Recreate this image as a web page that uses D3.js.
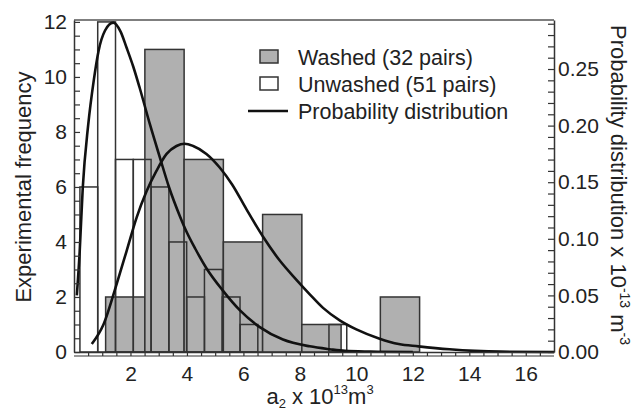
<!DOCTYPE html>
<html>
<head>
<meta charset="utf-8">
<script src="https://cdn.jsdelivr.net/npm/d3@7"></script>
<style>
  body { margin: 0; background: #fff; }
  text { font-family: Arial, "Liberation Sans", sans-serif; fill: #222; }
</style>
</head>
<body>
<div id="chart"></div>
<script>
// ---- data ----
const washedBinStarts = [1.12, 2.51, 3.90, 5.29, 6.68, 8.07, 9.46, 10.85];
const washedBinWidth = 1.39;
const washedCounts = [2, 11, 7, 4, 5, 1, 0, 2];

const unwashedBinStarts = [0.21, 0.84, 1.47, 2.10, 2.73, 3.36, 3.99, 4.62, 5.25, 5.88, 6.51, 7.14, 7.77, 8.40, 9.03];
const unwashedBinWidth = 0.63;
const unwashedCounts = [6, 12, 7, 7, 6, 4, 2, 3, 2, 1, 0, 0, 0, 0, 1];

// probability curves (x, density)
const unwashedCurveX = [0.10, 0.20, 0.31, 0.50, 0.70, 0.87, 1.10, 1.39, 1.65, 1.86, 2.10, 2.33, 2.69, 3.04, 3.36, 3.75, 3.99, 4.30, 4.69, 5.28, 5.87, 6.58, 7.40, 8.35, 9.05, 9.60, 10.5, 12.0];
const unwashedCurveY = [0.050, 0.088, 0.145, 0.200, 0.240, 0.266, 0.284, 0.291, 0.283, 0.269, 0.252, 0.233, 0.201, 0.172, 0.146, 0.120, 0.106, 0.091, 0.074, 0.054, 0.037, 0.022, 0.011, 0.005, 0.0025, 0.001, 0.0004, 0.0];
const washedCurveX = [0.63, 1.04, 1.51, 1.86, 2.22, 2.57, 2.92, 3.28, 3.63, 3.92, 4.22, 4.69, 5.16, 5.60, 6.11, 6.69, 7.28, 7.87, 8.35, 8.82, 9.41, 10.0, 10.8, 11.5, 12.2, 13.3, 14.2, 15.1, 17.0];
const washedCurveY = [0.007, 0.024, 0.060, 0.089, 0.119, 0.142, 0.160, 0.175, 0.182, 0.184, 0.182, 0.175, 0.163, 0.148, 0.126, 0.102, 0.081, 0.064, 0.051, 0.039, 0.028, 0.020, 0.012, 0.007, 0.005, 0.0024, 0.001, 0.0003, 0.0];

const xTicks = [2, 4, 6, 8, 10, 12, 14, 16];
const leftTicks = [0, 2, 4, 6, 8, 10, 12];
const rightTicks = [0, 0.05, 0.10, 0.15, 0.20, 0.25];
const legendLabels = ["Washed (32 pairs)", "Unwashed (51 pairs)", "Probability distribution"];

// ---- layout ----
const width = 641, height = 414;
const plotLeft = 74, plotRight = 554, plotTop = 20, plotBottom = 352;

const svg = d3.select("#chart").append("svg")
  .attr("width", width).attr("height", height);

const x = d3.scaleLinear().domain([0, 17]).range([plotLeft, plotRight]);
const yL = d3.scaleLinear().domain([0, 12.07]).range([plotBottom, plotTop]);
const yR = d3.scaleLinear().domain([0, 0.2933]).range([plotBottom, plotTop]);

const washed = washedBinStarts.map((s, i) => ({ x0: s, x1: s + washedBinWidth, n: washedCounts[i] }));
const unwashed = unwashedBinStarts.map((s, i) => ({ x0: s, x1: s + unwashedBinWidth, n: unwashedCounts[i] }));

// washed bars (grey)
svg.append("g")
  .selectAll("rect")
  .data(washed.filter(d => d.n > 0))
  .join("rect")
  .attr("x", d => x(d.x0))
  .attr("y", d => yL(d.n))
  .attr("width", d => x(d.x1) - x(d.x0))
  .attr("height", d => yL(0) - yL(d.n))
  .attr("fill", "#b0b0b0")
  .attr("stroke", "#333")
  .attr("stroke-width", 1.5);

// unwashed bars (outline only)
svg.append("g")
  .selectAll("rect")
  .data(unwashed.filter(d => d.n > 0))
  .join("rect")
  .attr("x", d => x(d.x0))
  .attr("y", d => yL(d.n))
  .attr("width", d => x(d.x1) - x(d.x0))
  .attr("height", d => yL(0) - yL(d.n))
  .attr("fill", "none")
  .attr("stroke", "#333")
  .attr("stroke-width", 1.5);

// probability curves
const line = d3.line()
  .x(d => x(d[0]))
  .y(d => yR(d[1]))
  .curve(d3.curveMonotoneX);

[[unwashedCurveX, unwashedCurveY], [washedCurveX, washedCurveY]].forEach(([xs, ys]) => {
  svg.append("path")
    .attr("d", line(xs.map((v, i) => [v, ys[i]])))
    .attr("fill", "none")
    .attr("stroke", "#111")
    .attr("stroke-width", 2.6);
});

// ---- axes ----
function styleAxis(g) {
  g.select(".domain").attr("stroke", "#333").attr("stroke-width", 1.5);
  g.selectAll(".tick line").attr("stroke", "#333").attr("stroke-width", 1.2);
  g.selectAll("text").attr("font-size", 21).attr("fill", "#222")
    .attr("font-family", "Arial, 'Liberation Sans', sans-serif");
}

// top frame
svg.append("line")
  .attr("x1", plotLeft).attr("x2", plotRight).attr("y1", plotTop).attr("y2", plotTop)
  .attr("stroke", "#555").attr("stroke-width", 1.5);

// left axis: inward minor ticks + labels
svg.append("g").attr("transform", `translate(${plotLeft},0)`)
  .call(d3.axisLeft(yL).tickValues(d3.range(0, 12.01, 0.5)).tickSize(-6).tickFormat("").tickSizeOuter(0))
  .call(styleAxis);
svg.append("g").attr("transform", `translate(${plotLeft},0)`)
  .call(d3.axisLeft(yL).tickValues(leftTicks).tickSize(0).tickPadding(7))
  .call(g => g.select(".domain").remove())
  .call(styleAxis);

// right axis
svg.append("g").attr("transform", `translate(${plotRight},0)`)
  .call(d3.axisRight(yR).tickValues(d3.range(0, 0.2901, 0.01)).tickSize(-6).tickFormat("").tickSizeOuter(0))
  .call(styleAxis);
svg.append("g").attr("transform", `translate(${plotRight},0)`)
  .call(d3.axisRight(yR).tickValues(rightTicks).tickSize(0).tickPadding(4).tickFormat(d3.format(".2f")))
  .call(g => g.select(".domain").remove())
  .call(styleAxis);

// bottom axis: ladder of minor ticks
svg.append("g").attr("transform", `translate(0,${plotBottom})`)
  .call(d3.axisBottom(x).tickValues(d3.range(0.5, 17, 0.5)).tickSize(4).tickFormat("").tickSizeOuter(0))
  .call(styleAxis);
svg.append("line")
  .attr("x1", plotLeft).attr("x2", plotRight).attr("y1", plotBottom + 4).attr("y2", plotBottom + 4)
  .attr("stroke", "#333").attr("stroke-width", 1.2);
svg.append("g").attr("transform", `translate(0,${plotBottom})`)
  .call(d3.axisBottom(x).tickValues(xTicks).tickSize(0).tickPadding(14))
  .call(g => g.select(".domain").remove())
  .call(styleAxis);

// ---- axis titles ----
svg.append("text")
  .attr("transform", `translate(31,187) rotate(-90)`)
  .attr("text-anchor", "middle")
  .attr("font-size", 22)
  .text("Experimental frequency");

const rt = svg.append("text")
  .attr("transform", `translate(611,25) rotate(90)`)
  .attr("font-size", 22);
rt.append("tspan").text("Probability distribution x 10");
rt.append("tspan").attr("font-size", 14).attr("dy", -9).text("-13");
rt.append("tspan").attr("dy", 9).text(" m");
rt.append("tspan").attr("font-size", 14).attr("dy", -9).text("-3");

const xt = svg.append("text")
  .attr("x", 320).attr("y", 404)
  .attr("text-anchor", "middle")
  .attr("font-size", 22);
xt.append("tspan").text("a");
xt.append("tspan").attr("font-size", 13).attr("dy", 4).text("2");
xt.append("tspan").attr("dy", -4).text(" x 10");
xt.append("tspan").attr("font-size", 13).attr("dy", -10).text("13");
xt.append("tspan").attr("dy", 10).text("m");
xt.append("tspan").attr("font-size", 13).attr("dy", -10).text("3");

// ---- legend ----
const legend = svg.append("g");
const legendY = [57, 84, 111];
legend.append("rect").attr("x", 260).attr("y", legendY[0] - 7).attr("width", 18).attr("height", 13)
  .attr("fill", "#b0b0b0").attr("stroke", "#333").attr("stroke-width", 1.5);
legend.append("rect").attr("x", 260).attr("y", legendY[1] - 7).attr("width", 18).attr("height", 13)
  .attr("fill", "#fff").attr("stroke", "#333").attr("stroke-width", 1.5);
legend.append("line").attr("x1", 248).attr("x2", 288).attr("y1", legendY[2]).attr("y2", legendY[2])
  .attr("stroke", "#111").attr("stroke-width", 2.6);
legend.selectAll("text.lbl")
  .data(legendLabels)
  .join("text")
  .attr("class", "lbl")
  .attr("x", 298)
  .attr("y", (d, i) => legendY[i])
  .attr("dy", "0.35em")
  .attr("font-size", 21.5)
  .text(d => d);
</script>
</body>
</html>
